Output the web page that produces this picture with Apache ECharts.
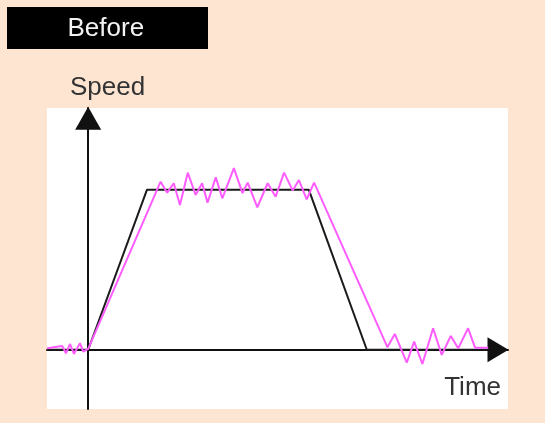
<!DOCTYPE html>
<html>
<head>
<meta charset="utf-8">
<script src="https://cdn.jsdelivr.net/npm/echarts@6/dist/echarts.min.js"></script>
<style>
html,body{margin:0;padding:0;background:#fde5d1;}
#chart{width:545px;height:423px;}
</style>
</head>
<body>
<div id="chart"></div>
<script>
// Ideal (commanded) speed profile: [time, speed]
const idealTime  = [-10, 0, 14.3, 53.6, 67.7, 97.1];
const idealSpeed = [0, 0, 100, 100, 0, 0];

// Actual (noisy) speed profile: [time, speed]
const actualTime  = [-9.96, -6.3, -5.4, -4.4, -3.45, -2.0, -1.2, 0, 17.6, 19.2, 20.8, 22.3, 24.2, 26.1, 27.7, 29.0, 31.0, 32.6, 35.4, 37.5, 38.75, 41.1, 43.6, 45.55, 47.6, 49.7, 51.2, 53.1, 54.9, 72.7, 74.5, 77.4, 79.2, 81.2, 83.8, 85.9, 88.1, 89.9, 92.3, 94.0, 97.2];
const actualSpeed = [0.9, 2.4, -2.2, 3.6, -2.6, 4.1, -1.2, 0.5, 105, 98.1, 104, 90.4, 110.6, 96.7, 104, 91.9, 107.7, 94.6, 113.4, 97.8, 104.4, 89, 104, 95.6, 110.6, 99.4, 106, 94, 104.4, 1.6, 9.9, -8.1, 5.1, -8.9, 13.4, -3.2, 8.6, 0.9, 13.4, 1.3, 1.3];

const titleText = 'Before';
const yName = 'Speed';
const xName = 'Time';

const zip = (a, b) => a.map((v, i) => [v, b[i]]);

const chart = echarts.init(document.getElementById('chart'), null, {renderer: 'canvas'});
const FONT = 'Liberation Sans, Arial, sans-serif';
chart.setOption({
  animation: false,
  backgroundColor: '#fde5d1',
  grid: {left: 47, right: 37, top: 108, bottom: 14, show: true, backgroundColor: '#ffffff', borderWidth: 0},
  xAxis: {
    type: 'value', min: -10, max: 102,
    axisLine: {onZero: true, lineStyle: {color: '#111', width: 2}, symbol: ['none', 'triangle'], symbolSize: [25, 21], symbolOffset: [0, -10]},
    axisTick: {show: false}, axisLabel: {show: false}, splitLine: {show: false}
  },
  yAxis: {
    type: 'value', min: -37, max: 151,
    axisLine: {onZero: true, lineStyle: {color: '#111', width: 2}, symbol: ['none', 'triangle'], symbolSize: [26, 23], symbolOffset: [0, -10.3]},
    axisTick: {show: false}, axisLabel: {show: false}, splitLine: {show: false}
  },
  graphic: [
    {type: 'rect', shape: {x: 7, y: 7, width: 201, height: 42}, style: {fill: '#000'}},
    {type: 'text', x: 67.5, y: 29, style: {text: titleText, font: '26px ' + FONT, fill: '#f2f2f2', verticalAlign: 'middle', align: 'left'}},
    {type: 'text', x: 70, y: 87.6, style: {text: yName, font: '26px ' + FONT, fill: '#333', verticalAlign: 'middle', align: 'left'}},
    {type: 'text', x: 501, y: 387.6, style: {text: xName, font: '26px ' + FONT, fill: '#333', verticalAlign: 'middle', align: 'right'}}
  ],
  series: [
    {type: 'line', data: zip(idealTime, idealSpeed), symbol: 'none', lineStyle: {color: '#1a1a1a', width: 2}, z: 3},
    {type: 'line', data: zip(actualTime, actualSpeed), symbol: 'none', lineStyle: {color: '#ff5cff', width: 2}, z: 4}
  ]
});
</script>
</body>
</html>
